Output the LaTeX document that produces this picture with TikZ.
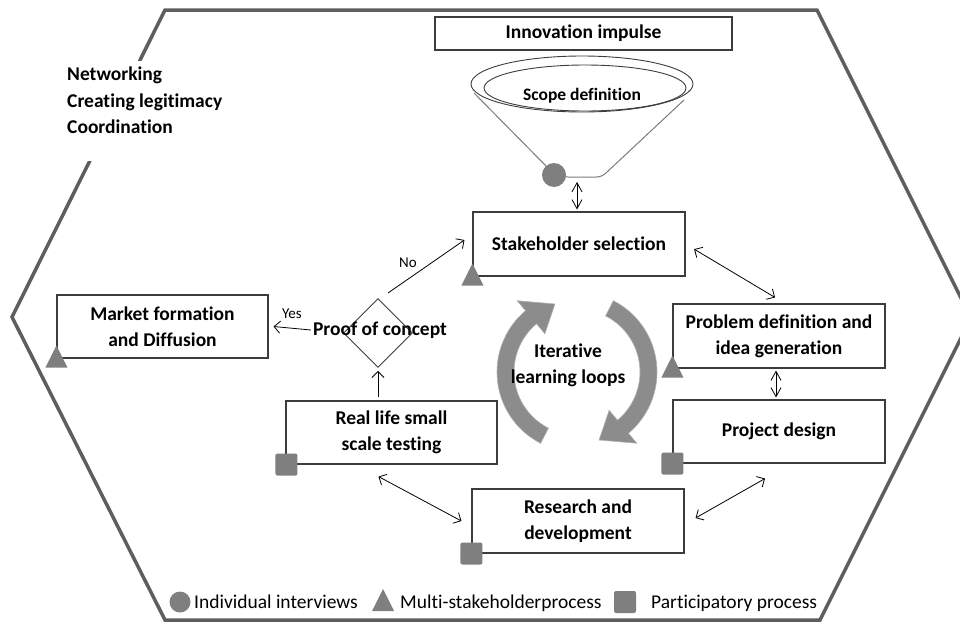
\documentclass[tikz,border=0pt]{standalone}
\usepackage{fontspec}
\setmainfont[Ligatures=NoCommon]{Carlito}
\usetikzlibrary{arrows.meta,shapes.geometric,calc}
\definecolor{hexgray}{HTML}{5E5E5E}
\definecolor{markc}{HTML}{7F7F7F}
\definecolor{boxline}{HTML}{3C3C3C}
\definecolor{loopc}{HTML}{8C8C8C}
\definecolor{funnelc}{HTML}{7A7A7A}
\begin{document}
\begin{tikzpicture}[x=1pt,y=-1pt,
  box/.style={draw=boxline,line width=1.1pt,minimum width=212pt,minimum height=64pt,
    font=\fontsize{19.5}{26}\selectfont\bfseries,align=center,inner sep=0pt,fill=white},
  lbl/.style={font=\fontsize{19.5}{26}\selectfont\bfseries,align=center,inner sep=0pt},
  small/.style={font=\fontsize{15}{17}\selectfont,inner sep=0pt},
  legtxt/.style={font=\fontsize{19.5}{22}\selectfont,inner sep=0pt,anchor=base west},
  arr/.style={-{Straight Barb[length=6pt,width=12pt]},line width=0.8pt},
  darr/.style={{Straight Barb[length=6pt,width=12pt]}-{Straight Barb[length=6pt,width=12pt]},line width=0.8pt},
  vdarr/.style={{Straight Barb[length=9pt,width=10pt]}-{Straight Barb[length=9pt,width=10pt]},line width=0.8pt},
  tri/.pic={\fill[markc] (0,-13) -- (11,9) -- (-11,9) -- cycle;},
  sq/.pic={\fill[markc,rounded corners=2pt] (-11,-11) rectangle (11,11);}
]
\useasboundingbox (0,0) rectangle (960,624);
% hexagon
\draw[hexgray,line width=3.5pt,line join=miter] (165,10) -- (817,10) -- (971,318) -- (820,620) -- (165,620) -- (12,317) -- cycle;
\node[fill=white,minimum width=170pt,minimum height=100pt,inner sep=0pt] (lefttxt) at (145,111) {};
\node[lbl,align=left,anchor=north west,font=\fontsize{19.5}{26.5}\selectfont\bfseries] (roles) at (67,67) {Networking\\Creating legitimacy\\Coordination};

% innovation impulse
\node[box,minimum width=297pt,minimum height=33pt] (innov) at (583.5,33.5) {Innovation impulse};

% funnel
\draw[funnelc,line width=1pt,line join=round] (474,93) -- (548,168) .. controls (555,176) and (560,177) .. (568,177) -- (596,177) .. controls (601,177) and (604,175) .. (607,172) -- (684,100);
\draw[boxline,line width=0.9pt] (582,84) ellipse [x radius=111, y radius=28];
\draw[boxline,line width=0.9pt] (585,88) ellipse [x radius=101, y radius=23];
\node[lbl,font=\fontsize{17.5}{20}\selectfont\bfseries] (scope) at (582,96) {Scope definition};
\fill[markc] (554,175) circle (12);
\coordinate (fbot) at (577,182);

% boxes
\node[box] (stake) at (579,244) {Stakeholder selection};
\node[box] (prob) at (779,336) {Problem definition and\\idea generation};
\node[box,minimum height=63pt] (proj) at (779,431.5) {Project design};
\node[box] (rd) at (578,521) {Research and\\development};
\node[box,minimum width=211pt,minimum height=63pt] (real) at (391.5,432.5) {Real life small\\scale testing};
\node[box,minimum width=211pt,minimum height=63pt] (mkt) at (162.5,326.5) {Market formation\\and Diffusion};

% markers
\pic at (stake.south west) {tri};
\pic at (prob.south west) {tri};
\pic at (mkt.south west) {tri};
\pic at (proj.south west) {sq};
\pic at (rd.south west) {sq};
\pic at ([xshift=1pt]real.south west) {sq};

% decision
\node[draw=boxline,line width=0.9pt,diamond,minimum width=69pt,minimum height=69pt,inner sep=0pt] (dia) at (378,333) {};
\node[lbl] (proof) at (380,330) {Proof of concept};
\coordinate (nostart) at (388,293);

% iterative loops
\coordinate (C) at (577,372);
\fill[loopc,draw=loopc!70!white,line width=0.6pt] ($(C)+(117:80)$) arc[start angle=117,end angle=230,radius=80]
  -- ($(C)+(230:93)$) -- ($(C)+(252:71.5)$) -- ($(C)+(230:50)$) -- ($(C)+(230:63)$)
  arc[start angle=230,end angle=117,radius=63] -- cycle;
\fill[loopc,draw=loopc!70!white,line width=0.6pt] ($(C)+(297:80)$) arc[start angle=297,end angle=410,radius=80]
  -- ($(C)+(410:93)$) -- ($(C)+(432:71.5)$) -- ($(C)+(410:50)$) -- ($(C)+(410:63)$)
  arc[start angle=410,end angle=297,radius=63] -- cycle;
\node[lbl] (iter) at (568,365) {Iterative\\learning loops};

% connectors
\draw[vdarr] (fbot) -- ([yshift=2pt]stake.north -| fbot);
\draw[darr,shorten <=10pt] (stake.east) -- ([xshift=-4pt,yshift=6pt]prob.north);
\draw[vdarr] ([xshift=-3pt,yshift=-2pt]prob.south) -- ([xshift=-3pt,yshift=2pt]proj.north);
\draw[darr] ([xshift=-14pt,yshift=-15pt]proj.south) -- ([xshift=11pt,yshift=3pt]rd.east);
\draw[darr] ([xshift=-13pt,yshift=-12pt]real.south) -- ([xshift=-10pt]rd.west);
\draw[arr] ([xshift=-13.5pt,yshift=3pt]real.north) -- ([yshift=-3pt]dia.south);
\draw[arr] ([xshift=-2pt]proof.west) -- ([xshift=5pt]mkt.east);
\draw[arr] (nostart) -- ([xshift=-8pt,yshift=4pt]stake.west);
\node[small] (yes) at (292,314) {Yes};
\node[small] (no) at (408,263) {No};

% legend
\fill[markc] (180,602) circle (10.5);
\node[legtxt] (l1) at (194,608) {Individual interviews};
\pic at (383,602) {tri};
\node[legtxt] (l2) at (400,608) {Multi-stakeholderprocess};
\pic at (625,602) {sq};
\node[legtxt] (l3) at (651,608) {Participatory process};
\end{tikzpicture}
\end{document}
